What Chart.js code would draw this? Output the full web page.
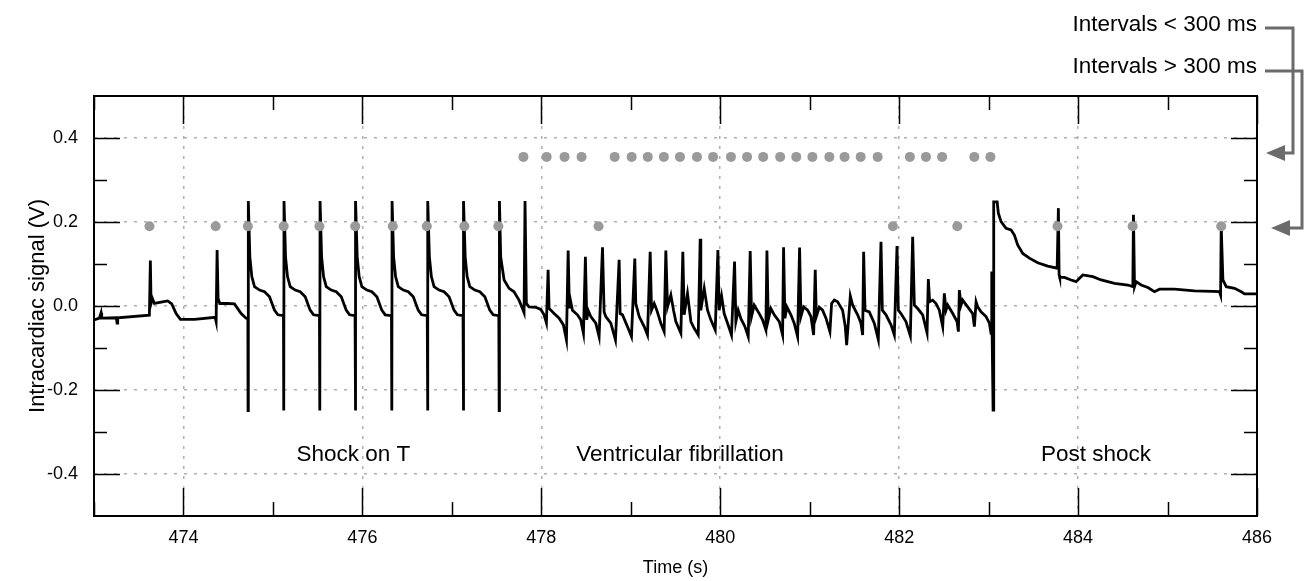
<!DOCTYPE html>
<html>
<head>
<meta charset="utf-8">
<script src="https://cdn.jsdelivr.net/npm/chart.js@4.4.0/dist/chart.umd.min.js"></script>
<style>
  html, body { margin: 0; padding: 0; background: #fff; }
</style>
</head>
<body>
<canvas id="ecg" width="1306" height="581"></canvas>
<script>
// ---- data ----
// baseline + two slow beats before the shocks
const preT = [473.000, 473.060, 473.079, 473.086, 473.250, 473.258, 473.265, 473.619,
  473.630, 473.638, 473.653, 473.675, 473.750, 473.824, 473.869, 473.918, 473.966, 474.123, 474.354, 474.365,
  474.376, 474.387, 474.406, 474.495, 474.570, 474.645, 474.700, 474.720];
const preV = [-0.033, -0.029, -0.016, -0.029, -0.028, -0.041, -0.028, -0.022,
  0.108, 0.006, 0.018, 0.006, 0.009, 0.012, 0.005, -0.018, -0.032, -0.032, -0.027, -0.037,
  0.133, 0.018, 0.006, 0.006, 0.005, -0.018, -0.029, -0.030];

// shock on T (8 paced beats + the one that starts VF)
const shockT = [
  474.722, 474.725, 474.742, 474.764, 474.794, 474.850, 474.906, 474.962, 475.017, 475.055, 475.118,
  475.121, 475.124, 475.141, 475.163, 475.193, 475.249, 475.305, 475.361, 475.416, 475.454, 475.520,
  475.524, 475.527, 475.544, 475.566, 475.596, 475.652, 475.708, 475.764, 475.819, 475.857, 475.918,
  475.922, 475.925, 475.942, 475.964, 475.994, 476.050, 476.106, 476.162, 476.217, 476.255, 476.325,
  476.329, 476.332, 476.349, 476.371, 476.401, 476.457, 476.513, 476.569, 476.624, 476.662, 476.725,
  476.729, 476.732, 476.749, 476.771, 476.801, 476.857, 476.913, 476.969, 477.024, 477.062, 477.125,
  477.129, 477.132, 477.149, 477.171, 477.201, 477.257, 477.313, 477.369, 477.424, 477.462, 477.525,
  477.529, 477.532, 477.546, 477.584, 477.640, 477.695, 477.751, 477.789, 477.807,
  477.818, 477.833, 477.863, 477.938, 477.994, 478.031, 478.057];
const shockV = [
  -0.249, 0.250, 0.117, 0.070, 0.046, 0.038, 0.034, 0.022, -0.010, -0.021, -0.023,
  -0.249, 0.250, 0.117, 0.070, 0.046, 0.038, 0.034, 0.022, -0.010, -0.021, -0.023,
  -0.249, 0.250, 0.117, 0.070, 0.046, 0.038, 0.034, 0.022, -0.010, -0.021, -0.023,
  -0.249, 0.250, 0.117, 0.070, 0.046, 0.038, 0.034, 0.022, -0.010, -0.021, -0.023,
  -0.249, 0.250, 0.117, 0.070, 0.046, 0.038, 0.034, 0.022, -0.010, -0.021, -0.023,
  -0.249, 0.250, 0.117, 0.070, 0.046, 0.038, 0.034, 0.022, -0.010, -0.021, -0.023,
  -0.249, 0.250, 0.117, 0.070, 0.046, 0.038, 0.034, 0.022, -0.010, -0.021, -0.023,
  -0.249, 0.250, 0.117, 0.062, 0.042, 0.034, 0.014, -0.006, -0.016,
  0.250, 0.006, -0.002, -0.003, -0.008, -0.021, -0.040];

// ventricular fibrillation
const vfT = [
  478.076, 478.087, 478.143, 478.199, 478.247, 478.281,
  478.300, 478.314, 478.322, 478.348, 478.404, 478.441, 478.471,
  478.493, 478.508, 478.523, 478.553, 478.609, 478.646,
  478.684, 478.702, 478.721, 478.777, 478.829,
  478.870, 478.881, 478.907, 478.963, 479.008,
  479.045, 479.056, 479.094, 479.150, 479.187,
  479.217, 479.232, 479.262, 479.291, 479.336, 479.373,
  479.392, 479.411, 479.448, 479.478, 479.504, 479.560,
  479.582, 479.597, 479.634, 479.672, 479.709, 479.754,
  479.776, 479.783, 479.821, 479.858, 479.895, 479.944,
  479.974, 479.988, 480.015, 480.044, 480.082, 480.126,
  480.160, 480.175, 480.201, 480.231, 480.276, 480.313,
  480.335, 480.350, 480.380, 480.436, 480.473, 480.510,
  480.522, 480.537, 480.566, 480.604, 480.660, 480.697,
  480.708, 480.723, 480.745, 480.790, 480.827, 480.865,
  480.887, 480.902, 480.932, 480.977, 481.014, 481.044,
  481.062, 481.074, 481.107, 481.144, 481.182, 481.226,
  481.245, 481.275, 481.312, 481.368, 481.398, 481.413,
  481.454, 481.480, 481.536, 481.573, 481.592,
  481.603, 481.618, 481.666, 481.722, 481.767,
  481.797, 481.812, 481.853, 481.909, 481.946,
  481.976, 481.991, 482.020, 482.076, 482.125,
  482.151, 482.170, 482.207, 482.263, 482.312,
  482.326, 482.341, 482.375, 482.412, 482.449, 482.487,
  482.505, 482.524, 482.543, 482.599, 482.647, 482.662,
  482.673, 482.692, 482.710, 482.766, 482.822, 482.841,
  482.860, 482.878, 482.915, 482.971, 483.009, 483.027];
const vfV = [
  0.086, -0.006, -0.018, -0.029, -0.045, -0.081,
  0.132, -0.006, 0.018, -0.010, -0.021, -0.033, -0.065,
  0.117, -0.033, -0.010, -0.025, -0.041, -0.073,
  0.140, -0.014, -0.025, -0.041, -0.081,
  0.110, -0.018, -0.021, -0.049, -0.073,
  0.113, 0.006, -0.025, -0.049, -0.069,
  0.129, -0.010, 0.006, -0.010, -0.041, -0.061,
  0.132, -0.002, 0.026, -0.010, -0.037, -0.065,
  0.129, -0.021, 0.030, -0.037, -0.053, -0.069,
  0.160, -0.010, 0.042, -0.010, -0.033, -0.057,
  0.133, -0.010, 0.024, -0.018, -0.041, -0.069,
  0.106, -0.037, -0.010, -0.030, -0.049, -0.073,
  0.131, -0.025, 0.002, -0.018, -0.033, -0.057,
  0.132, -0.033, -0.006, -0.021, -0.037, -0.069,
  0.140, -0.029, -0.002, -0.021, -0.041, -0.073,
  0.139, -0.025, -0.002, -0.010, -0.025, -0.069,
  0.086, -0.025, -0.003, -0.010, -0.029, -0.061,
  0.006, 0.014, 0.010, -0.010, -0.049, -0.093,
  0.024, 0.002, -0.021, -0.041, -0.069,
  0.129, -0.010, -0.014, -0.041, -0.080,
  0.153, -0.010, -0.021, -0.045, -0.069,
  0.143, -0.010, -0.018, -0.037, -0.071,
  0.165, 0.002, -0.006, -0.021, -0.064,
  0.064, 0.010, 0.014, 0.006, -0.010, -0.049,
  0.030, -0.010, 0.002, -0.018, -0.037, -0.061,
  0.038, 0.002, 0.014, -0.002, -0.018, -0.049,
  0.010, -0.002, -0.014, -0.025, -0.041, -0.065];

// defibrillation shock and recovery
const postT = [
  483.035, 483.039, 483.050, 483.057, 483.095, 483.109, 483.139, 483.195, 483.251, 483.288,
  483.326, 483.382, 483.456, 483.549, 483.661, 483.766,
  483.780, 483.788, 483.795, 483.848, 483.922, 483.978, 484.053, 484.165, 484.258, 484.407, 484.556, 484.612,
  484.619, 484.631, 484.649, 484.705, 484.780, 484.854, 484.910, 485.078, 485.302, 485.581, 485.593,
  485.600, 485.619, 485.656, 485.749, 485.824, 485.861, 486.000];
const postV = [
  0.082, -0.065, -0.248, 0.248, 0.248, 0.221, 0.201, 0.185, 0.181, 0.169,
  0.145, 0.125, 0.114, 0.103, 0.095, 0.090,
  0.233, 0.074, 0.068, 0.068, 0.062, 0.058, 0.074, 0.070, 0.062, 0.054, 0.050, 0.046,
  0.217, 0.046, 0.058, 0.050, 0.044, 0.034, 0.040, 0.040, 0.036, 0.034, 0.026,
  0.189, 0.062, 0.046, 0.042, 0.034, 0.029, 0.029];

// beat markers
const fastBeatT = [477.80, 478.06, 478.26, 478.45, 478.82, 479.01, 479.19, 479.37, 479.55, 479.74,
  479.92, 480.12, 480.30, 480.48, 480.67, 480.85, 481.03, 481.22, 481.39, 481.57, 481.76,
  482.12, 482.30, 482.48, 482.84, 483.02];
const fastBeatLevel = 0.355;
const slowBeatT = [473.62, 474.36, 474.72, 475.12, 475.52, 475.92, 476.34, 476.72, 477.14, 477.52,
  478.64, 481.93, 482.65, 483.77, 484.61, 485.60];
const slowBeatLevel = 0.19;

const xTicks = [474, 476, 478, 480, 482, 484, 486];
const xMinor = [473, 475, 477, 479, 481, 483, 485];
const yTicks = [-0.4, -0.2, 0, 0.2, 0.4];
const yTickLabels = ['-0.4', '-0.2', '0.0', '0.2', '0.4'];
const yMinor = [-0.3, -0.1, 0.1, 0.3];

const phaseNames = ['Shock on T', 'Ventricular fibrillation', 'Post shock'];
const phaseX = [475.9, 479.55, 484.2];
const phaseY = -0.355;
const legendTexts = ['Intervals < 300 ms', 'Intervals > 300 ms'];

const FONT = '"Liberation Sans", Arial, sans-serif';

function toPoints(ts, vs) {
  return ts.map((t, i) => ({ x: t, y: vs[i] }));
}
const traceT = preT.concat(shockT, vfT, postT);
const traceV = preV.concat(shockV, vfV, postV);

// frame, inward tick marks, phase labels and the legend on the right
const decorations = {
  id: 'decorations',
  afterDraw(chart) {
    const ctx = chart.ctx;
    const xs = chart.scales.x, ys = chart.scales.y;
    const { left, right, top, bottom } = chart.chartArea;
    ctx.save();
    ctx.strokeStyle = '#000';
    ctx.lineWidth = 1.5;
    ctx.beginPath();
    xTicks.concat(xMinor).forEach(v => {
      const len = xTicks.includes(v) ? 28 : 14;
      const px = Math.round(xs.getPixelForValue(v)) + 0.5;
      ctx.moveTo(px, top); ctx.lineTo(px, top + len);
      ctx.moveTo(px, bottom); ctx.lineTo(px, bottom - len);
    });
    yTicks.concat(yMinor).forEach(v => {
      const len = yTicks.includes(v) ? 26 : 13;
      const py = Math.round(ys.getPixelForValue(v)) + 0.5;
      ctx.moveTo(left, py); ctx.lineTo(left + len, py);
      ctx.moveTo(right, py); ctx.lineTo(right - len, py);
    });
    ctx.stroke();
    ctx.lineWidth = 2;
    ctx.strokeRect(left, top, right - left, bottom - top);

    ctx.fillStyle = '#000';
    ctx.font = '22.5px ' + FONT;
    ctx.textAlign = 'center';
    ctx.textBaseline = 'middle';
    phaseNames.forEach((name, i) => {
      ctx.fillText(name, xs.getPixelForValue(phaseX[i]), ys.getPixelForValue(phaseY));
    });

    // legend text + bracket arrows
    ctx.font = '22.5px ' + FONT;
    ctx.textAlign = 'right';
    ctx.fillText(legendTexts[0], right, 25);
    ctx.fillText(legendTexts[1], right, 67);
    ctx.strokeStyle = '#6b6b6b';
    ctx.fillStyle = '#6b6b6b';
    ctx.lineWidth = 3;
    const arrows = [
      { y0: 28, x1: 1293, y1: 153, tip: 1266 },
      { y0: 71, x1: 1302, y1: 228, tip: 1271 }
    ];
    arrows.forEach(a => {
      ctx.beginPath();
      ctx.moveTo(right + 8, a.y0);
      ctx.lineTo(a.x1, a.y0);
      ctx.lineTo(a.x1, a.y1);
      ctx.lineTo(a.tip + 14, a.y1);
      ctx.stroke();
      ctx.beginPath();
      ctx.moveTo(a.tip, a.y1);
      ctx.lineTo(a.tip + 19, a.y1 - 8);
      ctx.lineTo(a.tip + 19, a.y1 + 8);
      ctx.closePath();
      ctx.fill();
    });
    ctx.restore();
  }
};

const dotStyle = {
  showLine: false,
  pointRadius: 5,
  pointBackgroundColor: '#9a9a9a',
  pointBorderWidth: 0
};

new Chart(document.getElementById('ecg'), {
  type: 'line',
  data: {
    datasets: [
      Object.assign({ label: '< 300 ms', data: fastBeatT.map(t => ({ x: t, y: fastBeatLevel })) }, dotStyle),
      Object.assign({ label: '> 300 ms', data: slowBeatT.map(t => ({ x: t, y: slowBeatLevel })) }, dotStyle),
      {
        label: 'signal',
        data: toPoints(traceT, traceV),
        borderColor: '#000',
        borderWidth: 2.8,
        pointRadius: 0,
        tension: 0,
        borderJoinStyle: 'miter'
      }
    ]
  },
  options: {
    responsive: false,
    animation: false,
    events: [],
    layout: { padding: { left: 0, right: 49, top: 96, bottom: 0 } },
    plugins: { legend: { display: false }, tooltip: { enabled: false } },
    scales: {
      x: {
        type: 'linear',
        min: 473,
        max: 486,
        afterBuildTicks: s => { s.ticks = xTicks.map(v => ({ value: v })); },
        afterFit: s => { s.height = 65; },
        grid: { color: '#b0b0b0', lineWidth: 1.5, drawTicks: false },
        border: { display: false, dash: [3, 7] },
        ticks: {
          color: '#000',
          padding: 11,
          maxRotation: 0,
          font: { family: FONT, size: 18 },
          callback: v => String(v)
        },
        title: {
          display: true,
          text: 'Time (s)',
          color: '#000',
          font: { family: FONT, size: 18 },
          padding: { top: 0, bottom: 2 }
        }
      },
      y: {
        type: 'linear',
        min: -0.5,
        max: 0.5,
        afterBuildTicks: s => { s.ticks = yTicks.map(v => ({ value: v })); },
        afterFit: s => { s.width = 94; },
        grid: { color: '#b0b0b0', lineWidth: 1.5, drawTicks: false },
        border: { display: false, dash: [3, 7] },
        ticks: {
          color: '#000',
          padding: 16,
          font: { family: FONT, size: 18 },
          callback: (v, i) => yTickLabels[i]
        },
        title: {
          display: true,
          text: 'Intracardiac signal (V)',
          color: '#000',
          font: { family: FONT, size: 22 },
          padding: { top: 25, bottom: 0 }
        }
      }
    }
  },
  plugins: [decorations]
});
</script>
</body>
</html>
